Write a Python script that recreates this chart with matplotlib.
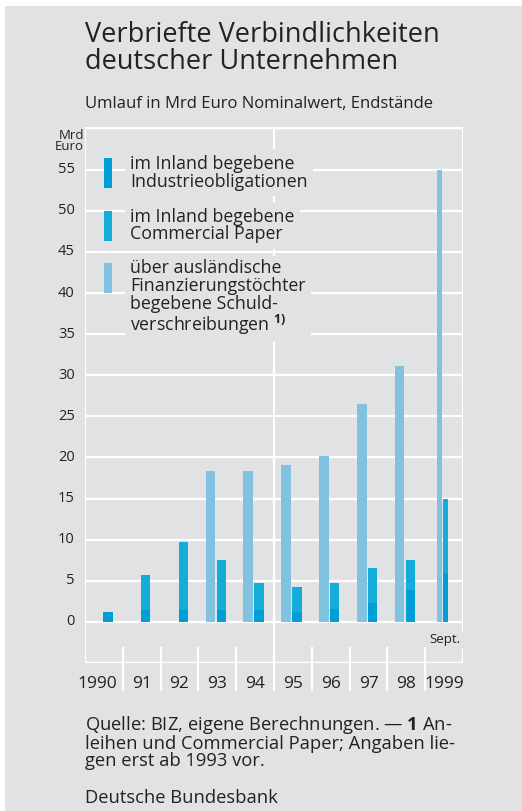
import matplotlib
matplotlib.use('Agg')
import matplotlib.pyplot as plt
from matplotlib.patches import Rectangle

# Daten (Mrd Euro, Endstände)
jahre = ["1990", "91", "92", "93", "94", "95", "96", "97", "98", "1999"]
auslaend = [0, 0, 0, 18.4, 18.3, 19.1, 20.2, 26.5, 31.1, 55.0]
industrie = [1.2, 1.5, 1.4, 1.4, 1.45, 1.25, 1.6, 2.35, 3.9, 6.0]
cp = [0, 4.2, 8.3, 6.1, 3.25, 3.05, 3.1, 4.15, 3.65, 9.0]
yticks = [0, 5, 10, 15, 20, 25, 30, 35, 40, 45, 50, 55]

bg = '#e1e2e4'
c_ausl = '#80c2e0'
c_cp = '#16acda'
c_ind = '#009ed6'
tc = '#222222'

plt.rcParams['font.family'] = ['Open Sans', 'DejaVu Sans']
plt.rcParams['mathtext.fontset'] = 'custom'
plt.rcParams['mathtext.rm'] = 'Open Sans'
plt.rcParams['mathtext.bf'] = 'Open Sans:bold'

fig = plt.figure(figsize=(5.22, 8.11), dpi=100, facecolor='white')
fig.patches.append(Rectangle((5/522, 0), 1, 1 - 6/811, transform=fig.transFigure,
                             facecolor=bg, edgecolor='none', zorder=-10))

ax = fig.add_axes([85/522, 1 - 663/811, 378/522, 536/811])
ax.set_facecolor(bg)
ax.set_xlim(0, 10)
ax.set_ylim(-5, 60.2)
for s in ax.spines.values():
    s.set_visible(False)
ax.set_xticks([])
ax.set_yticks([])

# Gitter
for v in yticks:
    ax.axhline(v, color='white', lw=1.6, zorder=1)
for xv in [0, 5, 10]:
    ax.axvline(xv, color='white', lw=1.6, zorder=1)
ax.axhline(60.2, color='white', lw=2.5, zorder=1)
ax.axhline(-5, color='white', lw=2.5, zorder=1)
for i in range(1, 10):
    ax.plot([i, i], [-3.2, -8.3], color='white', lw=1.6, clip_on=False, zorder=1)

# Balken
for i in range(len(jahre)):
    c = i + 0.5
    if i == len(jahre) - 1:
        lw_, dl, ll = 0.14, -0.03, -0.185
        wd = 0.13
    else:
        lw_, dl, ll = 0.26, -0.02, -0.31
        wd = 0.25
    if auslaend[i] > 0:
        ax.bar(c + ll, auslaend[i], width=lw_, align='edge', color=c_ausl, lw=0, zorder=5)
    ax.bar(c + dl, industrie[i], width=wd, align='edge', color=c_ind, lw=0, zorder=5)
    if cp[i] > 0:
        ax.bar(c + dl, cp[i], width=wd, align='edge', bottom=industrie[i], color=c_cp, lw=0, zorder=5)

# Achsenbeschriftung
for v in yticks:
    ax.text(-0.27, v, str(v), ha='right', va='center', fontsize=10.5, color=tc)
for i, j in enumerate(jahre):
    if i == 0:
        ax.text(0.84, -7.6, j, ha='right', va='center', fontsize=12.5, color=tc, clip_on=False)
    elif i == len(jahre) - 1:
        ax.text(8.98, -7.6, j, ha='left', va='center', fontsize=12.5, color=tc, clip_on=False)
    else:
        ax.text(i + 0.5, -7.6, j, ha='center', va='center', fontsize=12.5, color=tc, clip_on=False)
ax.text(9.94, -2.2, "Sept.", ha='right', va='center', fontsize=9.5, color=tc,
        bbox=dict(facecolor=bg, edgecolor='none', pad=1.5), zorder=4)
fig.text(84/522, 1 - 141/811, "Mrd\nEuro", ha='right', va='center', fontsize=9.5,
         color=tc, linespacing=0.85)

# Legende
leg = [(c_ind, 56.4, 52.8, "im Inland begebene\nIndustrieobligationen"),
       (c_cp, 50.0, 46.35, "im Inland begebene\nCommercial Paper"),
       (c_ausl, 43.7, 40.0, "über ausländische\nFinanzierungstöchter\nbegebene Schuld-\nverschreibungen $^{\\mathbf{1)}}$")]
for col, y1, y0, txt in leg:
    ax.add_patch(Rectangle((0.5, y0), 0.21, y1 - y0, facecolor=col, edgecolor='none', zorder=6))
    ax.text(1.2, y1 + 0.4, txt, ha='left', va='top', fontsize=12.8, color=tc,
            linespacing=0.98, zorder=6, bbox=dict(facecolor=bg, edgecolor='none', pad=4))

# Titel
fig.text(85/522, 1 - 21/811, "Verbriefte Verbindlichkeiten\ndeutscher Unternehmen", ha='left', va='top',
         fontsize=19.5, color=tc, linespacing=0.95)
fig.text(85/522, 1 - 104/811, "Umlauf in Mrd Euro Nominalwert, Endstände", ha='left', va='center',
         fontsize=12, color=tc)

# Fussnote
fig.text(85/522, 1 - 714/811, "Quelle: BIZ, eigene Berechnungen. — $\\mathbf{1}$ An-\n"
         "leihen und Commercial Paper; Angaben lie-\ngen erst ab 1993 vor.",
         ha='left', va='top', fontsize=13.2, color=tc, linespacing=0.92)
fig.text(85/522, 1 - 798/811, "Deutsche Bundesbank", ha='left', va='center', fontsize=13.2, color=tc)

fig.savefig('out.png', dpi=100, facecolor='white')
